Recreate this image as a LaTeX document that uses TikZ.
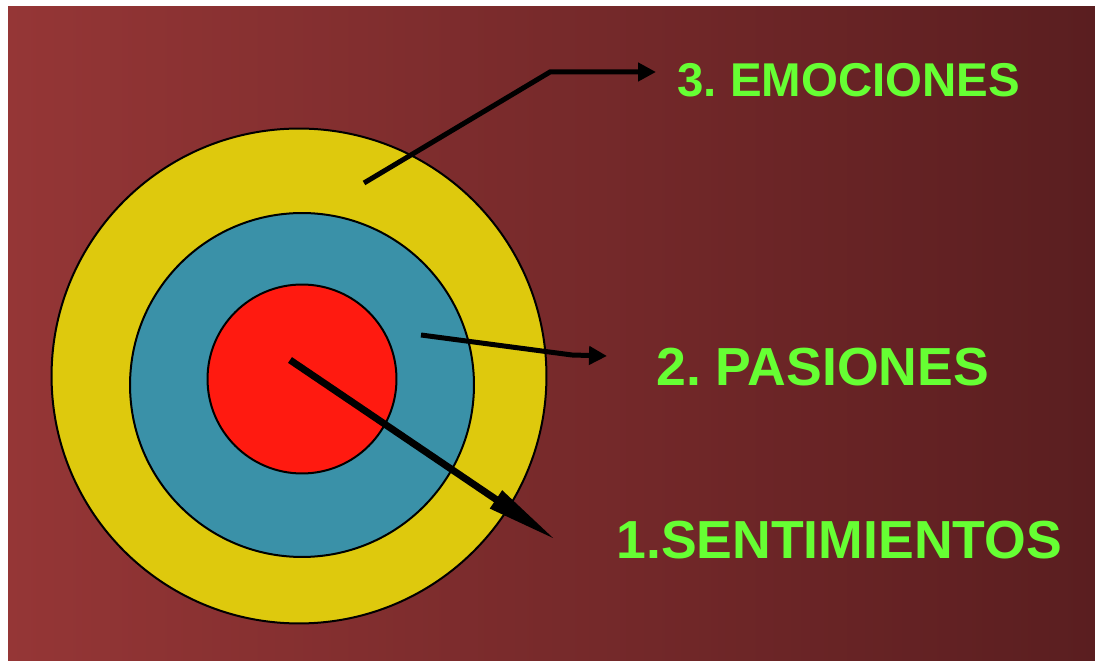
\documentclass[tikz,border=0pt]{standalone}
\usepackage{fontspec}
\setmainfont{Liberation Sans}
\usepackage{xcolor}
\usetikzlibrary{arrows.meta, shapes.geometric}

\definecolor{bgleft}{HTML}{953636}
\definecolor{bgright}{HTML}{5A1E20}
\definecolor{ringyellow}{HTML}{DEC90D}
\definecolor{ringblue}{HTML}{3A91A8}
\definecolor{ringred}{HTML}{FF1A10}
\definecolor{labelgreen}{HTML}{66FF33}

\begin{document}
\frenchspacing
\begin{tikzpicture}[
    x=0.02cm, y=-0.02cm,
    ring/.style={circle, draw=black, line width=0.04cm, inner sep=0pt},
    label/.style={anchor=west, inner sep=0pt, text=labelgreen, font=\fontsize{30.5}{36}\selectfont\bfseries},
    arrow/.style={line width=0.1cm, -{Triangle[length=0.36cm, width=0.36cm]}},
    bigarrow/.style={line width=0.14cm, -{Triangle[length=1.45cm, width=0.4cm]}}
]

\useasboundingbox (0,0) rectangle (1095,661);
\fill[white] (0,0) rectangle (1095,661);
\shade[left color=bgleft, right color=bgright] (8,7) rectangle (1095,661);

\node[ring, fill=ringyellow, minimum size=9.9cm] (outer) at (299,376) {};
\node[ring, fill=ringblue, minimum size=6.88cm] (middle) at (302,385) {};
\node[ring, fill=ringred, minimum size=3.78cm] (inner) at (302,379) {};

\node[label, font=\fontsize{27}{32}\selectfont\bfseries] (emo) at (677,80) {3. EMOCIONES};
\node[label] (pas) at (656,367) {2. PASIONES};
\node[label] (sen) at (616,540) {1.SENTIMIENTOS};

\coordinate (e1) at (364,183);
\coordinate (e2) at (550,72);
\coordinate (e3) at (656,72);
\coordinate (p1) at (421,335);
\coordinate (p2) at (572,355);
\coordinate (p3) at (607,356);
\coordinate (s1) at (290,360);
\coordinate (s2) at (556,540);

\draw[arrow] (e1) -- (e2) -- (e3);
\draw[arrow] (p1) -- (p2) -- (p3);
\draw[bigarrow] (s1) -- (s2);

\end{tikzpicture}
\end{document}
